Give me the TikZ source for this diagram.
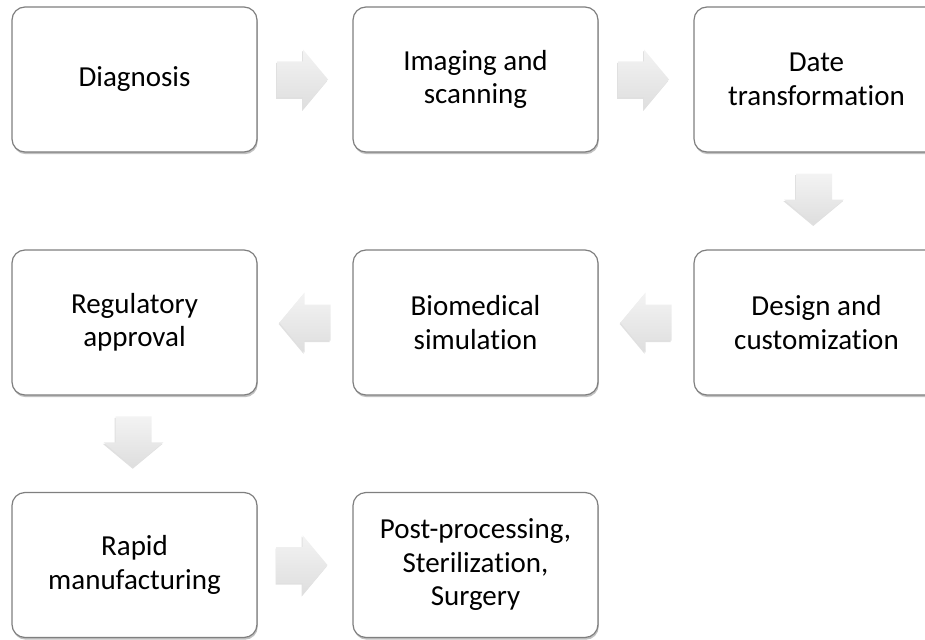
\documentclass[tikz,border=0pt]{standalone}
\usepackage{fontspec}
\setmainfont{Carlito}[Ligatures=NoCommon]
\usetikzlibrary{shadows,calc}
\definecolor{boxgray}{HTML}{7F7F7F}
\definecolor{arrtop}{HTML}{F3F3F3}
\definecolor{arrbot}{HTML}{DEDEDE}
\begin{document}
\begin{tikzpicture}[x=1pt,y=-1pt,
  stepbox/.style={draw=boxgray, line width=1.2pt, rounded corners=13pt, fill=white,
    minimum width=245pt, minimum height=145pt, align=center, inner sep=2pt,
    font=\fontsize{29}{33.5}\selectfont,
    drop shadow={shadow xshift=0.8pt, shadow yshift=-2.2pt, opacity=0.35, fill=black!70}},
  arrowbody/.style={top color=arrtop, bottom color=arrbot, draw=none,
    drop shadow={shadow xshift=-0.8pt, shadow yshift=-1.5pt, opacity=0.12, fill=black}},
  blockarr/.pic={\path[arrowbody] (-25.5,-18) -- (0.5,-18) -- (0.5,-30) -- (25.5,0)
     -- (0.5,30) -- (0.5,18) -- (-25.5,18) -- cycle;}]
\useasboundingbox (0,0) rectangle (925,639);
\clip (0,0) rectangle (925,639);
% row 1
\node[stepbox] (diag) at (134.5,79.5) {Diagnosis};
\node[stepbox] (imag) at (475.5,79.5) {Imaging and\\scanning};
\node[stepbox] (date) at (816.5,79.5) {Date\\transformation};
% row 2
\node[stepbox] (design) at (816.5,322.5) {Design and\\customization};
\node[stepbox] (bio) at (475.5,322.5) {Biomedical\\simulation};
\node[stepbox] (reg) at (134.5,322.5) {Regulatory\\approval};
% row 3
\node[stepbox] (rapid) at (134.5,565) {Rapid\\manufacturing};
\node[stepbox] (post) at (475.5,565) {Post-processing,\\Sterilization,\\Surgery};
% arrow positions
\coordinate (m1) at ($(diag.east)!0.5!(imag.west)+(-2.5,0)$);
\coordinate (m2) at ($(imag.east)!0.5!(date.west)+(-2.5,0)$);
\coordinate (m3) at ($(date.south)!0.5!(design.north)+(-2.5,-2)$);
\coordinate (m4) at ($(design.west)!0.5!(bio.east)+(0,0)$);
\coordinate (m5) at ($(bio.west)!0.5!(reg.east)+(0,0)$);
\coordinate (m6) at ($(reg.south)!0.5!(rapid.north)+(-1,-2)$);
\coordinate (m7) at ($(rapid.east)!0.5!(post.west)+(-3,0)$);
% arrows
\pic at (m1) {blockarr};
\pic at (m2) {blockarr};
\pic[rotate=-90] at (m3) {blockarr};
\pic[rotate=180] at (m4) {blockarr};
\pic[rotate=180] at (m5) {blockarr};
\pic[rotate=-90] at (m6) {blockarr};
\pic at (m7) {blockarr};
\end{tikzpicture}
\end{document}
